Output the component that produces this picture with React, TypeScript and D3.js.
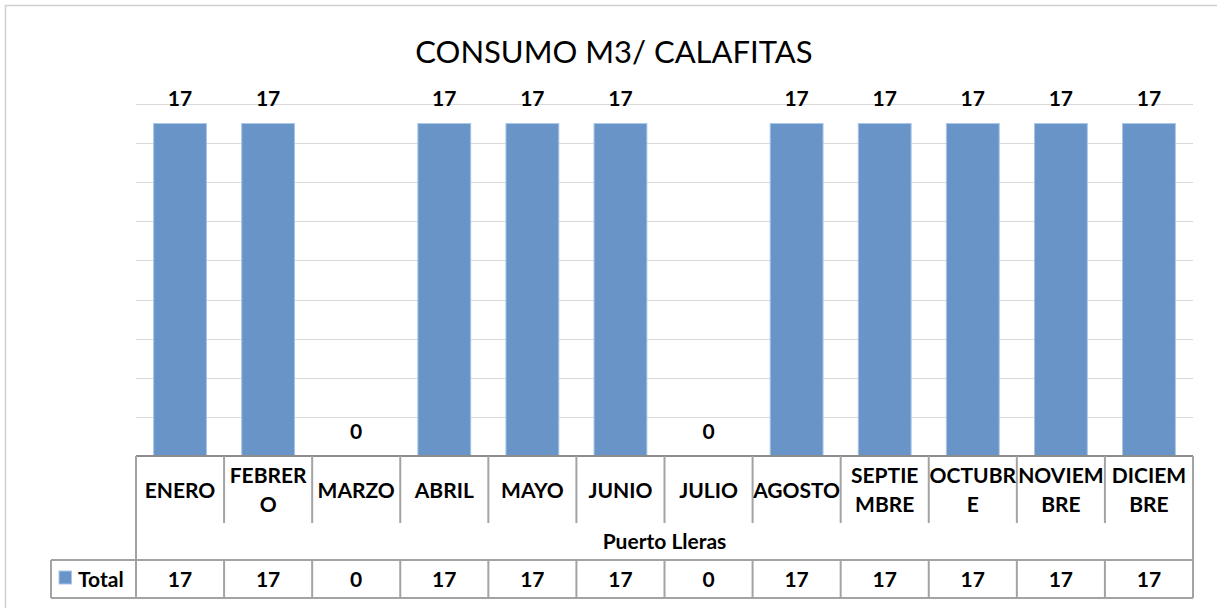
import React from "react";
import * as d3 from "d3";

const months = ["ENERO", "FEBRERO", "MARZO", "ABRIL", "MAYO", "JUNIO", "JULIO", "AGOSTO", "SEPTIEMBRE", "OCTUBRE", "NOVIEMBRE", "DICIEMBRE"];
const monthLabelLines = [["ENERO"], ["FEBRER", "O"], ["MARZO"], ["ABRIL"], ["MAYO"], ["JUNIO"], ["JULIO"], ["AGOSTO"], ["SEPTIE", "MBRE"], ["OCTUBR", "E"], ["NOVIEM", "BRE"], ["DICIEM", "BRE"]];
const totals = [17, 17, 0, 17, 17, 17, 0, 17, 17, 17, 17, 17];
const yTicks = [0, 2, 4, 6, 8, 10, 12, 14, 16, 18];
const title = "CONSUMO M3/ CALAFITAS";
const groupLabel = "Puerto Lleras";
const seriesName = "Total";

const W = 1217;
const H = 608;
const FONT = "Lato, 'Open Sans', sans-serif";
const FS = 21;

export default function App() {
  const left = 136, right = 1193, top = 104, axisY = 456;
  const x = d3.scaleBand<string>().domain(months).range([left, right]).paddingInner(0.4).paddingOuter(0.2);
  const col = d3.scaleBand<string>().domain(months).range([left, right]).padding(0);
  const y = d3.scaleLinear().domain([0, 18]).range([axisY, top]);

  const rowCatBottom = 523, rowGroupBottom = 560, rowTotalBottom = 598, legendLeft = 51;
  const lineColor = "#a3a3a3";

  return (
    <svg width={W} height={H} style={{ position: "absolute", left: 0, top: 0, background: "#fff" }} fontFamily={FONT}>
      <rect x={5.5} y={5.5} width={W + 20} height={H + 20} fill="#fff" stroke="#d0d0d0" strokeWidth={1.5} />
      <text x={614} y={63} textAnchor="middle" fontSize={31} fill="#000">{title}</text>

      {yTicks.filter(t => t > 0).map(t => (
        <line key={t} x1={left} x2={right} y1={Math.round(y(t)) + 0.5} y2={Math.round(y(t)) + 0.5} stroke="#d9d9d9" strokeWidth={1} />
      ))}

      {months.map((m, i) => (
        <rect key={m} x={x(m)!} y={y(totals[i])} width={x.bandwidth()} height={axisY - y(totals[i])}
          fill="#6894c8" stroke="#a9c5e8" strokeWidth={1} />
      ))}

      {months.map((m, i) => (
        <text key={"v" + m} x={x(m)! + x.bandwidth() / 2} y={y(totals[i]) - 17.5} textAnchor="middle"
          fontSize={FS} fontWeight="bold" fill="#000">{totals[i]}</text>
      ))}

      {/* table */}
      <g stroke={lineColor} strokeWidth={2} fill="none">
        <line x1={left} x2={right} y1={axisY} y2={axisY} stroke="#8c8c8c" />
        <line x1={left} x2={left} y1={axisY} y2={rowTotalBottom} />
        <line x1={right} x2={right} y1={axisY} y2={rowTotalBottom} />
        <line x1={legendLeft} x2={right} y1={rowGroupBottom} y2={rowGroupBottom} />
        <line x1={legendLeft} x2={right} y1={rowTotalBottom} y2={rowTotalBottom} />
        <line x1={legendLeft} x2={legendLeft} y1={rowGroupBottom} y2={rowTotalBottom} />
        {months.slice(1).map(m => (
          <g key={"d" + m}>
            <line x1={col(m)!} x2={col(m)!} y1={axisY} y2={rowCatBottom} />
            <line x1={col(m)!} x2={col(m)!} y1={rowGroupBottom} y2={rowTotalBottom} />
          </g>
        ))}
      </g>

      {months.map((m, i) => {
        const lines = monthLabelLines[i];
        const cx = col(m)! + col.bandwidth() / 2;
        const base = lines.length === 1 ? [497.5] : [483, 512];
        return lines.map((ln, j) => (
          <text key={m + j} x={cx} y={base[j]} textAnchor="middle" fontSize={FS} fontWeight="bold" fill="#000">{ln}</text>
        ));
      })}

      <text x={(left + right) / 2} y={549} textAnchor="middle" fontSize={FS} fontWeight="bold" fill="#000">{groupLabel}</text>

      <rect x={59} y={571} width={12.5} height={13} fill="#6894c8" stroke="#a9c5e8" strokeWidth={1} />
      <text x={78} y={587} fontSize={FS} fontWeight="bold" fill="#000">{seriesName}</text>

      {months.map((m, i) => (
        <text key={"t" + m} x={col(m)! + col.bandwidth() / 2} y={587} textAnchor="middle" fontSize={FS} fontWeight="bold" fill="#000">{totals[i]}</text>
      ))}
    </svg>
  );
}
